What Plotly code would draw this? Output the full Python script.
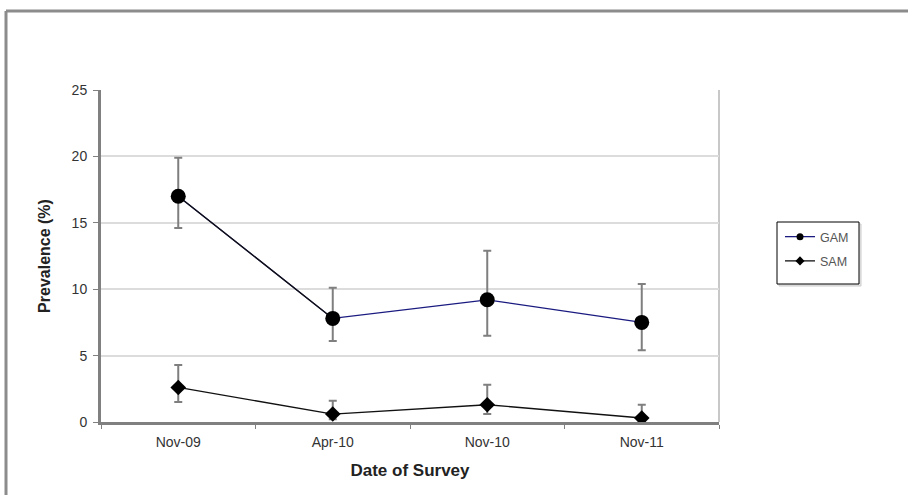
import plotly.graph_objects as go

dates = ["Nov-09", "Apr-10", "Nov-10", "Nov-11"]
gam = [17.0, 7.8, 9.2, 7.5]
gam_low = [14.6, 6.1, 6.5, 5.4]
gam_high = [19.9, 10.1, 12.9, 10.4]
sam = [2.6, 0.6, 1.3, 0.3]
sam_low = [1.5, 0.2, 0.6, 0.0]
sam_high = [4.3, 1.6, 2.8, 1.3]

def err(vals, lo, hi):
    return dict(type="data", symmetric=False,
                array=[h - v for v, h in zip(vals, hi)],
                arrayminus=[v - l for v, l in zip(vals, lo)],
                color="#7f7f7f", thickness=2, width=4)

BLUE = "#1a1a80"
fig = go.Figure()
fig.add_trace(go.Scatter(x=dates, y=gam, mode="lines", line=dict(color=BLUE, width=1.3),
                         showlegend=False, hoverinfo="skip"))
# first GAM segment drawn in black (as in original)
fig.add_trace(go.Scatter(x=dates[:2], y=gam[:2], mode="lines", line=dict(color="#111111", width=1.3),
                         showlegend=False, hoverinfo="skip"))
fig.add_trace(go.Scatter(x=dates, y=gam, name="GAM", mode="markers", showlegend=False,
                         marker=dict(symbol="circle", size=15, color="#000000"),
                         error_y=err(gam, gam_low, gam_high)))
fig.add_trace(go.Scatter(x=dates, y=sam, name="SAM", mode="lines+markers", showlegend=False,
                         line=dict(color="#111111", width=1.3),
                         marker=dict(symbol="diamond", size=12, color="#000000"),
                         error_y=err(sam, sam_low, sam_high)))
# legend entries
fig.add_trace(go.Scatter(x=[None], y=[None], name="GAM", mode="lines+markers", legendgroup="g1",
                         line=dict(color=BLUE, width=1.3),
                         marker=dict(symbol="circle", size=7, color="#000000")))
fig.add_trace(go.Scatter(x=[None], y=[None], name="SAM", mode="lines+markers", legendgroup="g2",
                         line=dict(color="#111111", width=1.3),
                         marker=dict(symbol="diamond", size=7, color="#000000")))

L, R, T, B = 101, 719, 90, 422
def px(x):
    return (x - L) / (R - L)
def py(y):
    return (B - y) / (B - T)

fig.update_layout(
    width=908, height=495,
    margin=dict(l=L, r=908 - R, t=T, b=495 - B),
    paper_bgcolor="white", plot_bgcolor="white",
    font=dict(family="Liberation Sans, Arial, sans-serif", size=11, color="#333333"),
    showlegend=True,
    legend=dict(x=px(780), y=py(222), xanchor="left", yanchor="top",
                borderwidth=0, bgcolor="rgba(0,0,0,0)",
                font=dict(size=12.5, color="#555555"), itemwidth=30, tracegroupgap=5),
    xaxis=dict(type="category", range=[-0.5, 3.5], showgrid=False,
               showline=True, linecolor="#808080", linewidth=3,
               ticks="outside", tickson="boundaries", ticklen=4, tickcolor="#808080",
               ticklabelstandoff=5,
               tickfont=dict(size=14, color="#333333"),
               title=dict(text="<b>Date of Survey</b>", font=dict(size=17, color="#222222"), standoff=16)),
    yaxis=dict(range=[0, 25], dtick=5, showgrid=True, gridcolor="#dcdcdc", gridwidth=2,
               showline=True, linecolor="#808080", linewidth=3, zeroline=False,
               ticks="outside", ticklen=5, tickcolor="#808080", ticklabelstandoff=3,
               tickfont=dict(size=14, color="#333333"),
               title=dict(text="<b>Prevalence (%)</b>", font=dict(size=16, color="#222222"), standoff=18)),
    shapes=[
        dict(type="line", xref="paper", yref="paper", x0=1, x1=1, y0=0, y1=1,
             line=dict(color="#c8c8c8", width=2), layer="below"),
        dict(type="line", xref="paper", yref="paper", x0=px(6), x1=2, y0=py(11), y1=py(11),
             line=dict(color="#8c8c8c", width=3)),
        dict(type="line", xref="paper", yref="paper", x0=px(6), x1=px(6), y0=-1, y1=py(11),
             line=dict(color="#8c8c8c", width=3)),
        # legend box with light shadow
        dict(type="rect", xref="paper", yref="paper", x0=px(779), x1=px(861), y0=py(286), y1=py(224),
             line=dict(color="#cccccc", width=1), fillcolor="#e6e6e6", layer="below"),
        dict(type="rect", xref="paper", yref="paper", x0=px(777), x1=px(859), y0=py(284), y1=py(222),
             line=dict(color="#000000", width=1), fillcolor="white", layer="below"),
    ],
)

fig.write_html("out.html", config={"displayModeBar": False},
               post_script="document.body.style.margin='0px';")
